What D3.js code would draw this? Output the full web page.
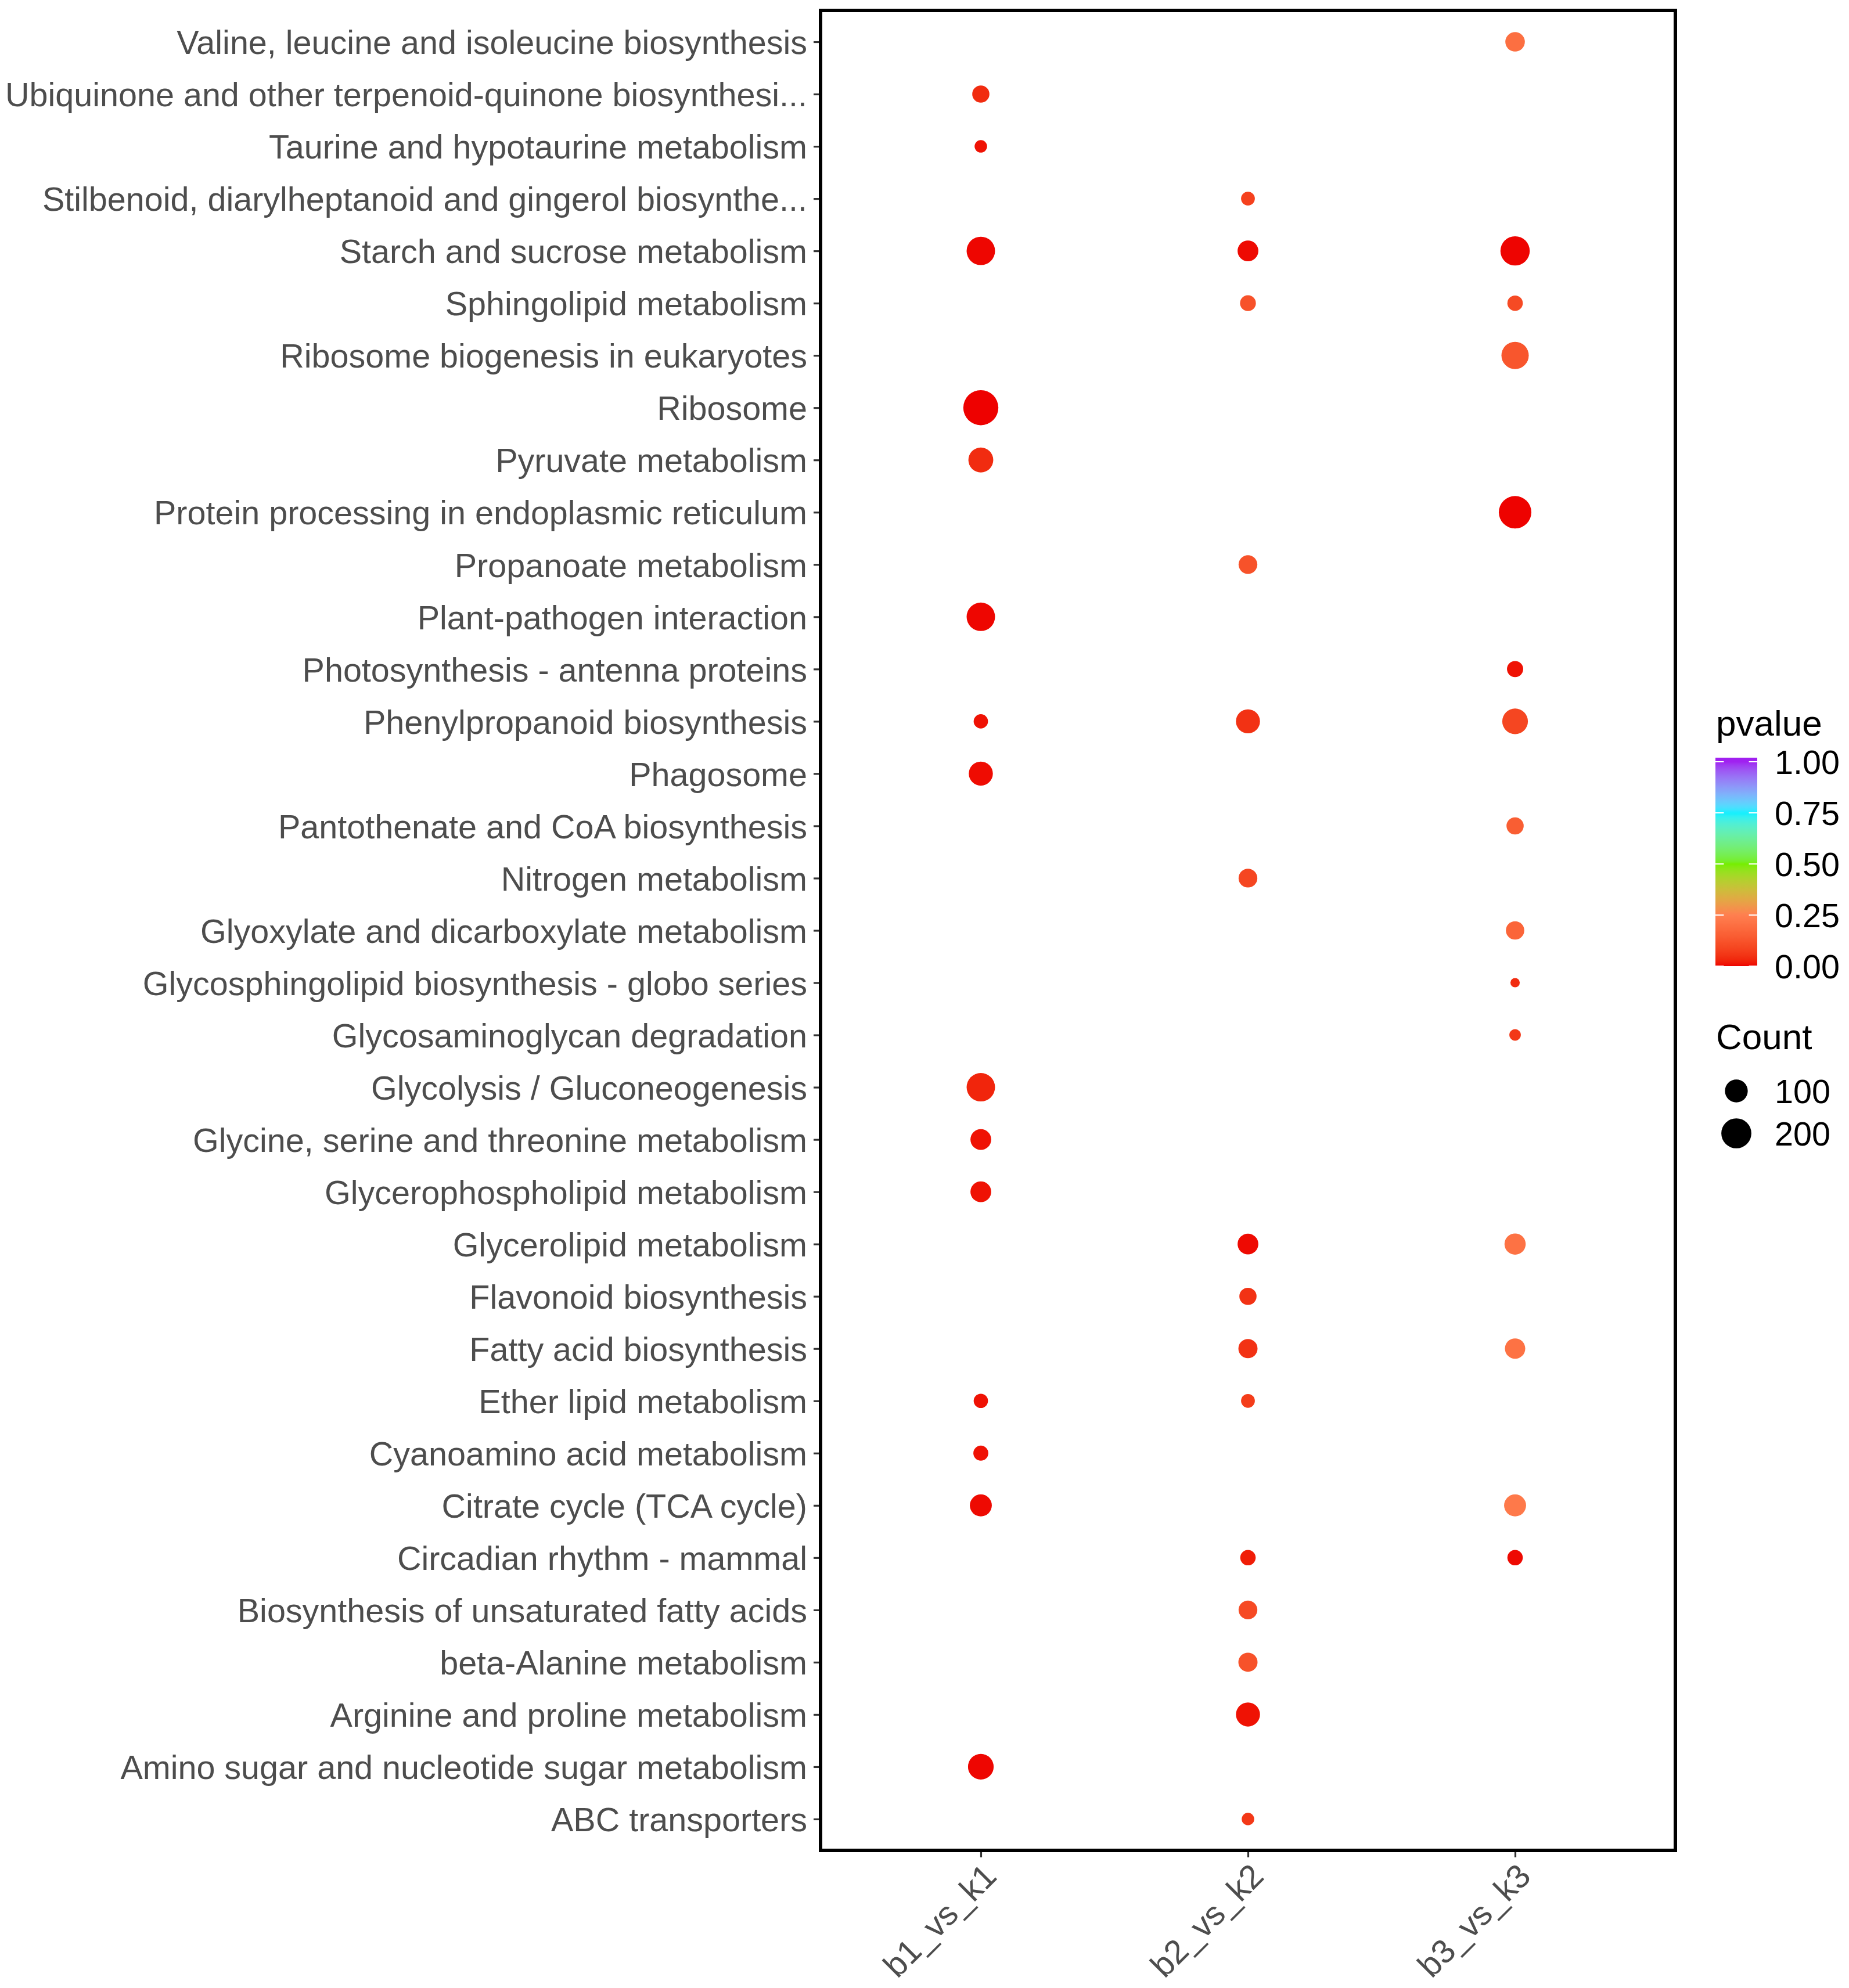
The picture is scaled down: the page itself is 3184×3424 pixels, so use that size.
<!DOCTYPE html>
<html>
<head>
<meta charset="utf-8">
<script src="https://cdn.jsdelivr.net/npm/d3@7"></script>
<style>
  body { margin: 0; background: #ffffff; }
  svg { display: block; }
  text { font-family: "Liberation Sans", Arial, sans-serif; }
</style>
</head>
<body>
<div id="chart"></div>
<script>
// Pathways, top to bottom as shown on the y axis
const pathways = [
    "Valine, leucine and isoleucine biosynthesis",
    "Ubiquinone and other terpenoid-quinone biosynthesi...",
    "Taurine and hypotaurine metabolism",
    "Stilbenoid, diarylheptanoid and gingerol biosynthe...",
    "Starch and sucrose metabolism",
    "Sphingolipid metabolism",
    "Ribosome biogenesis in eukaryotes",
    "Ribosome",
    "Pyruvate metabolism",
    "Protein processing in endoplasmic reticulum",
    "Propanoate metabolism",
    "Plant-pathogen interaction",
    "Photosynthesis - antenna proteins",
    "Phenylpropanoid biosynthesis",
    "Phagosome",
    "Pantothenate and CoA biosynthesis",
    "Nitrogen metabolism",
    "Glyoxylate and dicarboxylate metabolism",
    "Glycosphingolipid biosynthesis - globo series",
    "Glycosaminoglycan degradation",
    "Glycolysis / Gluconeogenesis",
    "Glycine, serine and threonine metabolism",
    "Glycerophospholipid metabolism",
    "Glycerolipid metabolism",
    "Flavonoid biosynthesis",
    "Fatty acid biosynthesis",
    "Ether lipid metabolism",
    "Cyanoamino acid metabolism",
    "Citrate cycle (TCA cycle)",
    "Circadian rhythm - mammal",
    "Biosynthesis of unsaturated fatty acids",
    "beta-Alanine metabolism",
    "Arginine and proline metabolism",
    "Amino sugar and nucleotide sugar metabolism",
    "ABC transporters"
];

const groups = ["b1_vs_k1", "b2_vs_k2", "b3_vs_k3"];

// [pathway, Count, pvalue] per comparison
const b1Points = [
    ["Ubiquinone and other terpenoid-quinone biosynthesi...", 51, 0.04],
    ["Taurine and hypotaurine metabolism", 30, 0.01],
    ["Starch and sucrose metabolism", 174, 0.003],
    ["Ribosome", 295, 0.0005],
    ["Pyruvate metabolism", 124, 0.04],
    ["Plant-pathogen interaction", 174, 0.003],
    ["Phenylpropanoid biosynthesis", 36, 0.01],
    ["Phagosome", 114, 0.006],
    ["Glycolysis / Gluconeogenesis", 174, 0.03],
    ["Glycine, serine and threonine metabolism", 79, 0.01],
    ["Glycerophospholipid metabolism", 79, 0.01],
    ["Ether lipid metabolism", 36, 0.01],
    ["Cyanoamino acid metabolism", 39, 0.01],
    ["Citrate cycle (TCA cycle)", 91, 0.005],
    ["Amino sugar and nucleotide sugar metabolism", 134, 0.003]
];

const b2Points = [
    ["Stilbenoid, diarylheptanoid and gingerol biosynthe...", 34, 0.08],
    ["Starch and sucrose metabolism", 79, 0.005],
    ["Sphingolipid metabolism", 43, 0.12],
    ["Propanoate metabolism", 62, 0.12],
    ["Phenylpropanoid biosynthesis", 114, 0.05],
    ["Nitrogen metabolism", 62, 0.09],
    ["Glycerolipid metabolism", 79, 0.005],
    ["Flavonoid biosynthesis", 51, 0.05],
    ["Fatty acid biosynthesis", 65, 0.05],
    ["Ether lipid metabolism", 34, 0.07],
    ["Circadian rhythm - mammal", 41, 0.02],
    ["Biosynthesis of unsaturated fatty acids", 62, 0.1],
    ["beta-Alanine metabolism", 65, 0.12],
    ["Arginine and proline metabolism", 114, 0.01],
    ["ABC transporters", 30, 0.06]
];

const b3Points = [
    ["Valine, leucine and isoleucine biosynthesis", 68, 0.2],
    ["Starch and sucrose metabolism", 188, 0.002],
    ["Sphingolipid metabolism", 41, 0.1],
    ["Ribosome biogenesis in eukaryotes", 157, 0.13],
    ["Protein processing in endoplasmic reticulum", 244, 0.001],
    ["Photosynthesis - antenna proteins", 45, 0.01],
    ["Phenylpropanoid biosynthesis", 134, 0.09],
    ["Pantothenate and CoA biosynthesis", 51, 0.15],
    ["Glyoxylate and dicarboxylate metabolism", 59, 0.17],
    ["Glycosphingolipid biosynthesis - globo series", 26, 0.04],
    ["Glycosaminoglycan degradation", 28, 0.06],
    ["Glycerolipid metabolism", 83, 0.21],
    ["Fatty acid biosynthesis", 75, 0.21],
    ["Citrate cycle (TCA cycle)", 91, 0.23],
    ["Circadian rhythm - mammal", 41, 0.005]
];

// Legend breaks
const pvalueBreaks = [0, 0.25, 0.5, 0.75, 1];
const countBreaks = [100, 200];
const gradientColors = ["#EE0000", "#FF7F50", "#76EE00", "#00F0FF", "#A020F0"];

// Layout
const W = 3184, H = 3424;
const panel = { left: 1413, right: 2885, top: 18, bottom: 3187 };
const axisFont = 57.5, titleFont = 62;

const points = [
    ...b1Points.map(d => ({ pathway: d[0], group: groups[0], count: d[1], p: d[2] })),
    ...b2Points.map(d => ({ pathway: d[0], group: groups[1], count: d[1], p: d[2] })),
    ...b3Points.map(d => ({ pathway: d[0], group: groups[2], count: d[1], p: d[2] }))
];

const svg = d3.select('#chart').append('svg')
    .attr('width', W)
    .attr('height', H)
    .attr('viewBox', `0 0 ${W} ${H}`);

svg.append('rect').attr('width', W).attr('height', H).attr('fill', '#ffffff');

// Scales
const x = d3.scalePoint().domain(groups).range([panel.left, panel.right]).padding(0.6);
const y = d3.scalePoint().domain(pathways).range([panel.top, panel.bottom]).padding(0.6);

const color = d3.scaleLinear()
    .domain(pvalueBreaks)
    .range(gradientColors)
    .interpolate(d3.interpolateLab)
    .clamp(true);

// ggplot-like area scale: diameter grows with sqrt of rescaled count
const countExtent = d3.extent(points, d => d.count);
const sizeT = d3.scaleLinear().domain(countExtent).range([0, 1]);
const diameter = c => 16.1 + 44.3 * Math.sqrt(Math.max(0, sizeT(c)));

// Points
svg.append('g').attr('class', 'points')
    .selectAll('circle')
    .data(points)
    .join('circle')
    .attr('cx', d => x(d.group))
    .attr('cy', d => y(d.pathway))
    .attr('r', d => diameter(d.count) / 2)
    .attr('fill', d => color(d.p));

// Y axis
const yAxis = svg.append('g')
    .attr('transform', `translate(${panel.left},0)`)
    .call(d3.axisLeft(y).tickSize(12).tickPadding(11));
yAxis.select('.domain').remove();
yAxis.selectAll('.tick line').attr('stroke', '#333333').attr('stroke-width', 3.2);
yAxis.selectAll('.tick text')
    .attr('fill', '#4D4D4D')
    .attr('font-size', axisFont)
    .attr('font-family', '"Liberation Sans", Arial, sans-serif')
    .attr('dy', '0.36em');

// X axis
const xAxis = svg.append('g')
    .attr('transform', `translate(0,${panel.bottom})`)
    .call(d3.axisBottom(x).tickSize(12));
xAxis.select('.domain').remove();
xAxis.selectAll('.tick line').attr('stroke', '#333333').attr('stroke-width', 3.2);
xAxis.selectAll('.tick text')
    .attr('fill', '#4D4D4D')
    .attr('font-size', axisFont)
    .attr('font-family', '"Liberation Sans", Arial, sans-serif')
    .attr('x', 0)
    .attr('y', 0)
    .attr('dy', '0.73em')
    .attr('text-anchor', 'end')
    .attr('transform', 'translate(0,18) rotate(-45)');

// Panel border
svg.append('rect')
    .attr('x', panel.left)
    .attr('y', panel.top)
    .attr('width', panel.right - panel.left)
    .attr('height', panel.bottom - panel.top)
    .attr('fill', 'none')
    .attr('stroke', '#000000')
    .attr('stroke-width', 6);

// Legend: pvalue colour bar
const legend = svg.append('g').attr('class', 'legend');
const barX = 2954, barW = 72;
const legendP = d3.scaleLinear().domain([0, 1]).range([1664, 1312]);
const barTop = legendP(1.02), barBottom = legendP(0);

legend.append('text')
    .attr('x', 2955)
    .attr('y', 1267)
    .attr('font-size', titleFont)
    .attr('fill', '#000000')
    .text('pvalue');

const grad = svg.append('defs').append('linearGradient')
    .attr('id', 'pgrad')
    .attr('x1', 0).attr('y1', 1).attr('x2', 0).attr('y2', 0);
grad.selectAll('stop')
    .data(d3.range(0, 1.0001, 0.01))
    .join('stop')
    .attr('offset', t => t)
    .attr('stop-color', t => color(t * 1.02));

legend.append('rect')
    .attr('x', barX)
    .attr('y', barTop)
    .attr('width', barW)
    .attr('height', barBottom - barTop)
    .attr('fill', 'url(#pgrad)');

const tickLen = barW / 5;
legend.selectAll('.ptick-l')
    .data(pvalueBreaks)
    .join('line')
    .attr('x1', barX).attr('x2', barX + tickLen)
    .attr('y1', d => legendP(d)).attr('y2', d => legendP(d))
    .attr('stroke', '#ffffff').attr('stroke-width', 2);
legend.selectAll('.ptick-r')
    .data(pvalueBreaks)
    .join('line')
    .attr('x1', barX + barW - tickLen).attr('x2', barX + barW)
    .attr('y1', d => legendP(d)).attr('y2', d => legendP(d))
    .attr('stroke', '#ffffff').attr('stroke-width', 2);

legend.selectAll('.plabel')
    .data(pvalueBreaks)
    .join('text')
    .attr('x', 3056)
    .attr('y', d => legendP(d))
    .attr('dy', '0.36em')
    .attr('font-size', axisFont)
    .attr('fill', '#000000')
    .text(d => d3.format('.2f')(d));

// Legend: Count sizes
legend.append('text')
    .attr('x', 2955)
    .attr('y', 1807)
    .attr('font-size', titleFont)
    .attr('fill', '#000000')
    .text('Count');

const keyY = d3.scalePoint().domain(countBreaks).range([1879, 1952]);
legend.selectAll('.ckey')
    .data(countBreaks)
    .join('circle')
    .attr('cx', 2990)
    .attr('cy', d => keyY(d))
    .attr('r', d => diameter(d) / 2)
    .attr('fill', '#000000');
legend.selectAll('.clabel')
    .data(countBreaks)
    .join('text')
    .attr('x', 3056)
    .attr('y', d => keyY(d))
    .attr('dy', '0.36em')
    .attr('font-size', axisFont)
    .attr('fill', '#000000')
    .text(d => d);
</script>
</body>
</html>
